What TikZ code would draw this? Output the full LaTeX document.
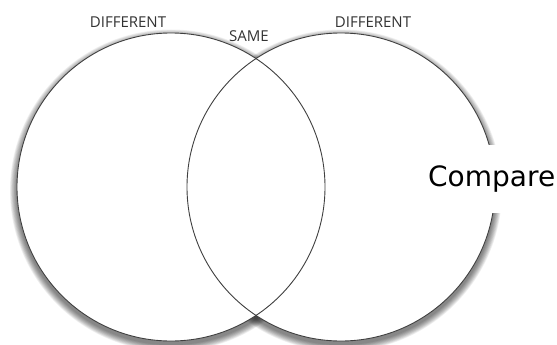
\documentclass[tikz,border=0pt]{standalone}
\usepackage{fontspec}
\setmainfont{Open Sans}
\newfontfamily\cmpfont{DejaVu Sans}
\begin{document}
\begin{tikzpicture}[x=1pt,y=-1pt,
  ring/.style={draw=black!75,line width=0.9pt},
  lbl/.style={font=\fontsize{15}{16}\selectfont,text=black!80,inner sep=0pt}]
\useasboundingbox (0,0) rectangle (557,345);
\fill[white] (0,0) rectangle (557,345);
% shadow
\foreach \k in {1,...,10}{
  \fill[black,opacity=0.06] (171,190.5) circle ({154+\k*0.7});
  \fill[black,opacity=0.06] (341,190.5) circle ({154+\k*0.7});
}
\fill[white] (171,187) circle (154);
\fill[white] (341,187) circle (154);
\draw[ring] (171,187) circle (154);
\draw[ring] (341,187) circle (154);
\node[lbl] (d1) at (128,22) {DIFFERENT};
\node[lbl] (s) at (249,36) {SAME};
\node[lbl] (d2) at (373,22) {DIFFERENT};
\node[fill=white,inner sep=0pt,minimum height=68pt,anchor=west] (c) at (428,179)
  {\cmpfont\fontsize{28}{30}\selectfont Compare\hspace{4pt}};
\end{tikzpicture}
\end{document}
